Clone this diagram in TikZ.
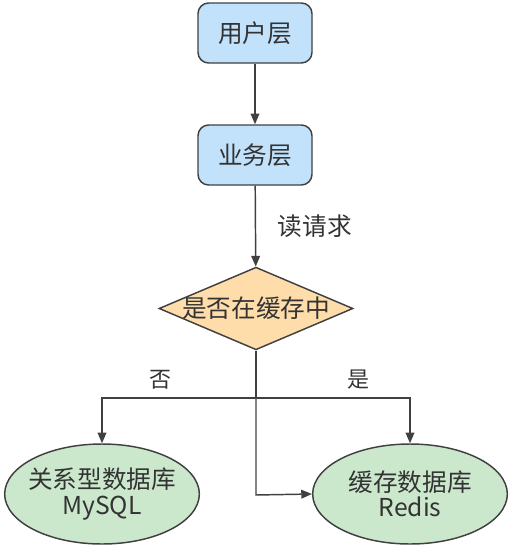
\documentclass[tikz,border=0pt]{standalone}
\usepackage{fontspec}
\setmainfont{Noto Sans CJK SC}
\usetikzlibrary{shapes.geometric,arrows.meta}
\definecolor{boxblue}{HTML}{C2E2FC}
\definecolor{diaorange}{HTML}{FFDDAA}
\definecolor{ellgreen}{HTML}{CCE8CC}
\definecolor{linegray}{HTML}{404040}
\definecolor{txtgray}{HTML}{333333}
\begin{document}
\begin{tikzpicture}[x=0.75pt,y=-0.75pt,
  every node/.style={text=txtgray,font=\fontsize{18.5}{22}\selectfont},
  every label/.style={text=txtgray,font=\fontsize{18.5}{22}\selectfont,align=center,inner sep=0pt},
  layerbox/.style={draw=linegray,line width=1.1pt,fill=boxblue,rounded corners=8pt,minimum width=85.5pt,minimum height=45pt,inner sep=0pt},
  decide/.style={draw=linegray,line width=1.1pt,fill=diaorange,diamond,aspect=2.34,minimum width=145.5pt,minimum height=62pt,inner sep=0pt},
  store/.style={draw=linegray,line width=1.1pt,fill=ellgreen,ellipse,minimum width=146pt,minimum height=75pt,inner sep=0pt},
  conn/.style={draw=linegray,line width=1.1pt,-{Triangle[length=8pt,width=6.5pt]}},
  lbl/.style={font=\fontsize{16.5}{20}\selectfont}]
\useasboundingbox (0,0) rectangle (510,553);
\node[layerbox] (user) at (255,33) {用户层};
\node[layerbox] (biz) at (255,155) {业务层};
\node[decide,label={center:是否在缓存中}] (dec) at (256,308.5) {};
\node[store,label={center:关系型数据库\\[-3pt]MySQL}] (mysql) at (102,494) {};
\node[store,label={center:缓存数据库\\[-3pt]Redis}] (redis) at (410,494) {};
\coordinate (split) at (256,398);
\coordinate (low) at (256,495);
\draw[conn] (user) -- (biz);
\draw[conn] (biz) -- node[right=13pt,pos=0.5] {读请求} (dec);
\draw[draw=linegray,line width=1.1pt] (dec.south) -- (split);
\draw[conn] (split) -| (mysql.north);
\draw[conn] (split) -| (redis.north);
\draw[conn] (split) -- (low) -- (redis.west);
\node[lbl] (no) at (160,380) {否};
\node[lbl] (yes) at (358,380) {是};
\end{tikzpicture}
\end{document}
